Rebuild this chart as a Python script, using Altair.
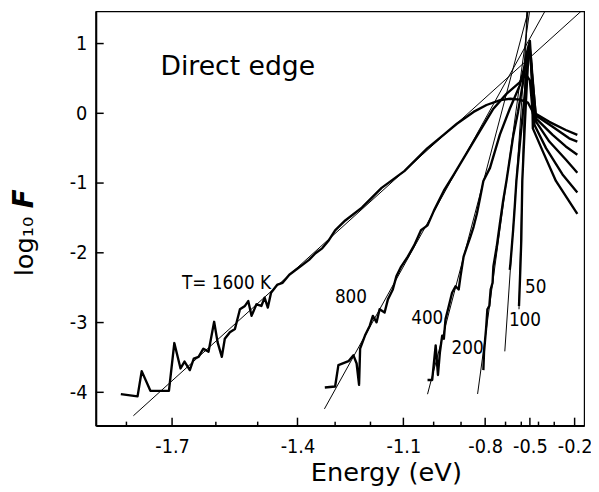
import altair as alt
import pandas as pd

FONT = "DejaVu Sans"
NARROW = "Liberation Sans Narrow, DejaVu Sans Condensed, DejaVu Sans"

# ---- thick measured curves: Energy (eV) and log10 F ----
E_1600 = [-1.812, -1.776, -1.767, -1.748, -1.707, -1.695, -1.681, -1.672, -1.660, -1.651,
          -1.640, -1.629, -1.617, -1.604, -1.596, -1.586, -1.579, -1.567, -1.555, -1.543,
          -1.531, -1.523, -1.515, -1.503, -1.491, -1.483, -1.475, -1.467, -1.451, -1.438,
          -1.421, -1.404, -1.387, -1.370, -1.353, -1.335, -1.317, -1.300, -1.272, -1.225,
          -1.167, -1.097, -1.022, -0.964, -0.916, -0.850, -0.794, -0.728, -0.674, -0.610,
          -0.538, -0.451, -0.328, -0.241, -0.188]
F_1600 = [-4.025, -4.058, -3.696, -3.979, -3.979, -3.294, -3.658, -3.559, -3.682, -3.516,
          -3.492, -3.375, -3.417, -2.989, -3.280, -3.492, -3.233, -3.139, -3.092, -2.809,
          -2.762, -2.692, -2.904, -2.738, -2.762, -2.643, -2.785, -2.573, -2.455, -2.431,
          -2.314, -2.243, -2.173, -2.102, -2.007, -1.936, -1.819, -1.678, -1.536, -1.352,
          -1.069, -0.829, -0.504, -0.306, -0.150, 0.020, 0.119, 0.190, 0.208, 0.197,
          0.154, 0.020, -0.122, -0.239, -0.310]

E_800 = [-1.328, -1.300, -1.291, -1.263, -1.249, -1.240, -1.233, -1.230, -1.216, -1.202,
         -1.193, -1.182, -1.173, -1.158, -1.148, -1.133, -1.122, -1.107, -1.086, -1.065,
         -1.043, -1.021, -0.999, -0.964, -0.927, -0.850, -0.762, -0.695, -0.612, -0.560,
         -0.500, -0.451, -0.309, -0.225, -0.188]
F_800 = [-3.931, -3.917, -3.611, -3.554, -3.470, -3.587, -3.894, -3.375, -3.187, -3.045,
         -2.904, -2.997, -2.809, -2.856, -2.668, -2.526, -2.338, -2.197, -2.055, -1.890,
         -1.677, -1.607, -1.395, -1.109, -0.876, -0.405, 0.066, 0.279, 0.444, 0.557,
         0.472, -0.004, -0.192, -0.358, -0.405]

E_400 = [-1.021, -1.005, -0.993, -0.985, -0.978, -0.970, -0.964, -0.958, -0.946, -0.934,
         -0.921, -0.909, -0.902, -0.890, -0.877, -0.863, -0.850, -0.836, -0.822, -0.808,
         -0.778, -0.730, -0.676, -0.612, -0.569, -0.538, -0.485, -0.419, -0.309, -0.241,
         -0.188]
F_400 = [-3.823, -3.823, -3.328, -3.752, -3.422, -3.187, -3.233, -2.951, -2.762, -2.573,
         -2.479, -2.526, -2.338, -2.055, -1.914, -1.772, -1.631, -1.441, -1.206, -0.970,
         -0.782, -0.306, 0.066, 0.397, 0.699, 0.897, 0.798, -0.075, -0.310, -0.475,
         -0.593]

E_200 = [-0.808, -0.805, -0.796, -0.790, -0.781, -0.775, -0.766, -0.762, -0.746, -0.730,
         -0.713, -0.695, -0.656, -0.624, -0.586, -0.549, -0.524, -0.476, -0.419, -0.328,
         -0.241, -0.188]
F_200 = [-3.682, -3.422, -3.092, -2.809, -2.762, -2.526, -2.431, -2.197, -1.914, -1.583,
         -1.253, -0.970, -0.334, 0.020, 0.444, 0.868, 0.982, 0.798, -0.122, -0.405,
         -0.663, -0.853]

E_100 = [-0.676, -0.672, -0.656, -0.646, -0.635, -0.602, -0.569, -0.538, -0.515, -0.476,
         -0.434, -0.348, -0.257, -0.188]
F_100 = [-2.243, -2.148, -1.677, -1.348, -0.970, -0.263, 0.303, 0.868, 1.010, 0.727,
         -0.168, -0.499, -0.876, -1.136]

E_50 = [-0.617, -0.610, -0.600, -0.592, -0.569, -0.549, -0.524, -0.500, -0.463, -0.451,
        -0.369, -0.291, -0.188]
F_50 = [-2.762, -2.385, -1.819, -0.970, -0.122, 0.444, 0.939, 1.038, 0.585, -0.216,
        -0.546, -0.970, -1.441]

# ---- thin fitted straight lines (endpoints) ----
FIT_T = ["1600", "800", "400", "200", "100", "50"]
FIT_E0 = [-1.785, -1.329, -1.021, -0.833, -0.704, -0.617]
FIT_F0 = [-4.336, -4.238, -4.027, -4.024, -3.413, -2.809]
FIT_E1 = [-0.158, -0.338, -0.515, -0.489, -0.535, -0.550]
FIT_F1 = [1.505, 1.533, 1.533, 1.533, 1.533, 1.533]

# ---- curve labels ----
LABELS = ["T= 1600 K", "800", "400", "200", "100", "50"]
LABEL_E = [-1.575, -1.256, -1.022, -0.874, -0.569, -0.422]
LABEL_F = [-2.441, -2.632, -2.936, -3.361, -2.965, -2.491]

TITLE_TEXT = "Direct edge"
TITLE_E = -1.726
TITLE_F = 0.661

# ---- axis ticks ----
X_MAJOR = [-1.7, -1.4, -1.1, -0.8, -0.5, -0.2]
X_MINOR = [-1.8, -1.6, -1.5, -1.3, -1.2, -1.0, -0.9, -0.7, -0.6, -0.4, -0.3]
Y_MAJOR = [-4, -3, -2, -1, 0, 1]

E_EDGE = -0.5  # energy axis is drawn as |E - E_edge|^(3/2)

rows = []
for name, es, fs in [("1600", E_1600, F_1600), ("800", E_800, F_800), ("400", E_400, F_400),
                     ("200", E_200, F_200), ("100", E_100, F_100), ("50", E_50, F_50)]:
    for i, (e, f) in enumerate(zip(es, fs)):
        rows.append({"curve": name, "i": i, "E": e, "logF": f})
curves_df = pd.DataFrame(rows)

fit_rows = []
for t, e0, f0, e1, f1 in zip(FIT_T, FIT_E0, FIT_F0, FIT_E1, FIT_F1):
    fit_rows.append({"curve": t, "i": 0, "E": e0, "logF": f0})
    fit_rows.append({"curve": t, "i": 1, "E": e1, "logF": f1})
fit_df = pd.DataFrame(fit_rows)

lab_df = pd.DataFrame({"label": LABELS, "E": LABEL_E, "logF": LABEL_F})
title_df = pd.DataFrame({"label": [TITLE_TEXT], "E": [TITLE_E], "logF": [TITLE_F]})
xmaj_df = pd.DataFrame({"E": X_MAJOR})
xmin_df = pd.DataFrame({"E": X_MINOR})
ymaj_df = pd.DataFrame({"logF": Y_MAJOR})

W, H = 495, 420

xscale = alt.Scale(type="pow", exponent=1.5, domain=[-1.365, 0.341], nice=False, zero=False)
yscale = alt.Scale(domain=[-4.477, 1.463], nice=False, zero=False)

xaxis = alt.Axis(
    values=[v - E_EDGE for v in X_MAJOR],
    labelExpr="'-' + format(abs(datum.value - 0.5), '.1f')",
    ticks=False, grid=False, domainWidth=2, domainColor="black",
    labelFont=NARROW, labelFontSize=20, labelColor="black", labelPadding=11,
    labelFlush=False, labelOverlap=False,
    title="Energy (eV)", titleFont=FONT, titleFontSize=26, titleFontWeight="normal",
    titleColor="black", titleX=294, titleY=56, titleAlign="center", titleBaseline="alphabetic",
)
yaxis = alt.Axis(
    values=Y_MAJOR,
    labelExpr="(datum.value < 0 ? '-' : '') + abs(datum.value)",
    ticks=False, grid=False, domainWidth=2, domainColor="black",
    labelFont=NARROW, labelFontSize=20, labelColor="black", labelPadding=9,
    title="log₁₀", titleFont=FONT, titleFontSize=26, titleFontWeight="normal",
    titleColor="black", titleX=-72, titleY=238, titleAlign="center", titleBaseline="middle",
    titleAngle=270,
)

x_enc = alt.X("u:Q", scale=xscale, axis=xaxis)
y_enc = alt.Y("logF:Q", scale=yscale, axis=yaxis)
calc = {"u": f"datum.E - ({E_EDGE})"}

fits = alt.Chart(fit_df).mark_line(color="black", strokeWidth=1, clip=True).transform_calculate(**calc).encode(
    x=x_enc, y=y_enc, detail="curve:N", order="i:Q")

thick = alt.Chart(curves_df).mark_line(color="black", strokeWidth=2.4, clip=True, strokeJoin="round").transform_calculate(**calc).encode(
    x=x_enc, y=y_enc, detail="curve:N", order="i:Q")

labels = alt.Chart(lab_df).mark_text(font=NARROW, fontSize=19, color="black").transform_calculate(**calc).encode(
    x=x_enc, y=y_enc, text="label:N")

title_txt = alt.Chart(title_df).mark_text(font=FONT, fontSize=27, color="black", align="left", baseline="middle").transform_calculate(**calc).encode(
    x=x_enc, y=y_enc, text="label:N")

# bold italic "F" of the y-axis title
f_df = pd.DataFrame({"label": ["F"]})
f_txt = alt.Chart(f_df).mark_text(font=FONT, fontSize=28, fontWeight="bold", fontStyle="italic",
                                  color="black", angle=270, align="center", baseline="middle").encode(
    x=alt.value(-72), y=alt.value(190), text="label:N")

xmaj = alt.Chart(xmaj_df).mark_rule(color="black", strokeWidth=1.5).transform_calculate(**calc).encode(
    x=x_enc, y=alt.value(H), y2=alt.value(H - 8))
xmin = alt.Chart(xmin_df).mark_rule(color="black", strokeWidth=1.5).transform_calculate(**calc).encode(
    x=x_enc, y=alt.value(H), y2=alt.value(H - 4))
ymaj = alt.Chart(ymaj_df).mark_rule(color="black", strokeWidth=1.5).encode(
    y=y_enc, x=alt.value(0), x2=alt.value(8))

chart = alt.layer(fits, thick, labels, title_txt, f_txt, xmaj, xmin, ymaj).properties(
    width=W, height=H,
    padding={"left": 89, "top": 0, "right": 7, "bottom": 62},
    autosize=alt.AutoSizeParams(type="none"),
    background="white",
).configure_view(stroke="black", strokeWidth=1.2)

chart.save("out.html", embed_options={"renderer": "svg", "actions": False})
